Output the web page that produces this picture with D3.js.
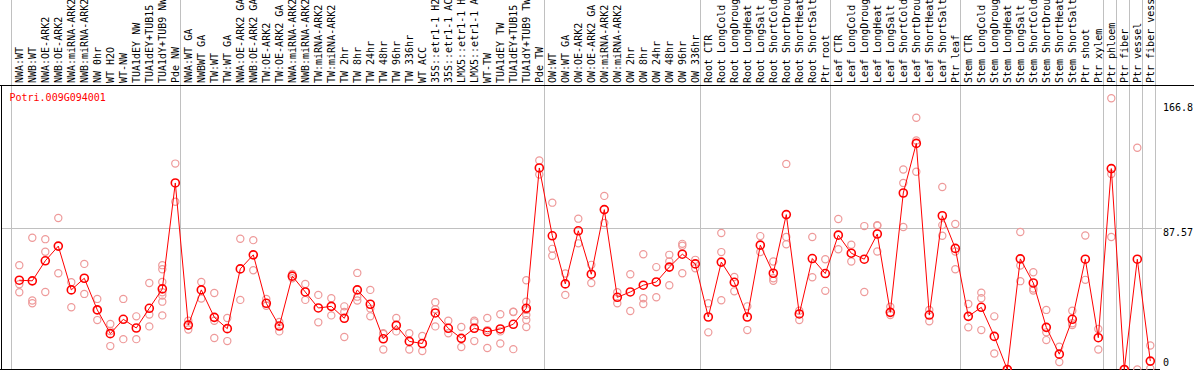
<!DOCTYPE html>
<html><head><meta charset="utf-8">
<script src="https://cdn.jsdelivr.net/npm/d3@7"></script>
<style>
html,body{margin:0;padding:0;background:#fff;}
svg{display:block;}
text{font-family:"DejaVu Sans Mono","Liberation Mono",monospace;font-size:10px;}
</style></head>
<body><svg id="c" width="1194" height="370"></svg>
<script>
const geneId = "Potri.009G094001";
const categories = [
"NWA:WT","NWB:WT","NWA:OE-ARK2","NWB:OE-ARK2","NWA:miRNA-ARK2","NWB:miRNA-ARK2","NW 0hr","WT H2O","WT-NW","TUA1dEY NW","TUA1dEY+TUB15 NW","TUA1dY+TUB9 NW","Pde NW",
"NWA:WT GA","NWBWT GA","TW:WT","TW:WT GA","NWA:OE-ARK2 GA","NWB:OE-ARK2 GA","TW:OE-ARK2","TW:OE-ARK2 GA","NWA:miRNA-ARK2 GA","NWB:miRNA-ARK2 GA","TW:miRNA-ARK2","TW:miRNA-ARK2 GA","TW 2hr","TW 8hr","TW 24hr","TW 48hr","TW 96hr","TW 336hr","WT ACC","35S::etr1-1 H2O","35S::etr1-1 ACC","LMX5::etr1-1 H2O","LMX5::etr1-1 ACC","WT-TW","TUA1dEY TW","TUA1dEY+TUB15 TW","TUA1dY+TUB9 TW","Pde TW",
"OW:WT","OW:WT GA","OW:OE-ARK2","OW:OE-ARK2 GA","OW:miRNA-ARK2","OW:miRNA-ARK2 GA","OW 2hr","OW 8hr","OW 24hr","OW 48hr","OW 96hr","OW 336hr",
"Root CTR","Root LongCold","Root LongDrought","Root LongHeat","Root LongSalt","Root ShortCold","Root ShortDrought","Root ShortHeat","Root ShortSalt","Ptr root",
"Leaf CTR","Leaf LongCold","Leaf LongDrought","Leaf LongHeat","Leaf LongSalt","Leaf ShortCold","Leaf ShortDrought","Leaf ShortHeat","Leaf ShortSalt","Ptr leaf",
"Stem CTR","Stem LongCold","Stem LongDrought","Stem LongHeat","Stem LongSalt","Stem ShortCold","Stem ShortDrought","Stem ShortHeat","Stem ShortSalt","Ptr shoot","Ptr xylem",
"Ptr phloem","Ptr fiber","Ptr vessel","Ptr fiber vessel"];
const groupStarts = [0, 13, 41, 53, 63, 73, 84, 85, 86, 87];
const means = [
55.3,54.9,67.3,76.4,49.3,56.5,36.9,22.2,31.1,25.7,37.9,49.9,115.5,
27.5,49.3,32.3,25.3,62.3,71.0,41.0,26.9,57.8,48.0,38.1,39.1,31.7,49.3,40.4,19.0,27.3,17.4,16.1,35.0,25.5,19.3,25.5,23.4,25.1,28.0,37.9,124.8,
82.8,53.0,85.9,59.0,99.0,44.7,48.0,52.2,54.2,63.4,71.4,65.4,
32.5,66.5,54.0,32.5,77.0,59.6,95.9,34.4,68.7,59.4,
83.2,72.0,68.3,83.9,35.4,109.3,140.0,33.7,95.2,75.0,
32.9,38.5,20.5,0,68.5,53.6,26.1,9.5,31.1,68.3,19.7,
124.4,0,68.3,5.2];
const replicates = [
[64.6,52.8,47.8],[81.6,42.7,41.0],[80.7,72.9,48.0],[93.8,59.6],[54.0,38.5],[65.4,46.8],[43.7,36.9,30.6],[28.2,23.8,14.5],[43.7,18.8],[32.9,18.8],[53.6,34.0,26.7],[64.6,62.1,54.2,47.8,45.8,42.0,33.5],[127.5,103.9],
[30.2,24.8],[54.2,43.9],[47.4,30.2,19.5],[31.9,17.6],[81.0,43.1],[80.1,61.5],[43.7,39.5],[29.4,23.6],[59.1,56.5],[53.0,43.1],[46.2,29.2],[44.1,33.5],[39.1,35.6,20.1],[59.8,45.1,42.7],[49.3,37.7,32.9],[22.4,22.0,12.4],[31.9,23.6],[22.4,12.4],[20.7,11.4],[41.6,37.3,26.7],[30.2,22.4],[26.3,13.9],[30.2,29.2,17.6],[31.9,24.4,13.3],[34.2,23.6,16.1],[35.6,35.8,12.6],[55.3,42.0,36.9,33.7,30.6,26.3],[129.4,120.7],
[103.3,74.7,70.4],[59.4,46.2],[93.4,78.1],[64.8,53.6],[107.5,90.7],[47.8,41.0],[59.0,36.2],[71.4,44.1,40.6],[63.4,44.7],[71.0,66.9,52.2],[77.8,76.6,59.6],[67.9,62.7],
[41.0,23.0],[84.5,72.7,42.9],[57.3,48.4],[39.1,24.4],[82.6,72.7],[66.9,56.5,54.9],[127.3,82.0,77.6],[36.4,30.6],[82.0,57.1],[68.3,48.7],
[93.2,74.5],[77.2,66.9],[88.8,48.0],[89.4,89.0,73.1],[38.9,33.7],[123.8,115.5,88.2],[155.9,141.8,122.4],[36.9,29.8],[113.0,89.4,82.8],[90.1,73.1,62.1],
[40.6,26.1],[47.6,44.1,24.4],[32.9,9.9],[0,0],[85.1,64.4,54.7],[60.2,50.1,48.9],[36.9,23.0,18.2],[14.1,4.6],[36.4,28.6,27.5],[83.0,55.5],[25.1,12.4],
[168.0,121.1,82.0],[0,0],[137.3,0],[14.9,0.6]];
const yTicks = [0, 87.57, 166.8];
const yMax = 175.14;

const svg = d3.select("#c");
const x = d3.scaleBand().domain(categories).range([11.3, 1155.3]).padding(0);
const px = c => x(c) + 8;
const y = d3.scaleLinear().domain([0, yMax]).range([369.5, 86.65]);
const crisp = v => Math.round(v) + 0.5;

// separators
const seps = groupStarts.map(i => x(categories[i])).concat([x.range()[1]]);
svg.append("g").selectAll("line").data(seps).join("line")
  .attr("x1", d => crisp(d)).attr("x2", d => crisp(d))
  .attr("y1", 0).attr("y2", 369)
  .attr("stroke", "#c0c0c0").attr("stroke-width", 1);

// gridline at middle tick
svg.append("line")
  .attr("x1", 1).attr("x2", 1162)
  .attr("y1", crisp(y(yTicks[1]))).attr("y2", crisp(y(yTicks[1])))
  .attr("stroke", "#c0c0c0");

// frame
svg.append("line").attr("x1", 0).attr("x2", 1194).attr("y1", 85.5).attr("y2", 85.5).attr("stroke", "#000");
svg.append("line").attr("x1", 1.5).attr("x2", 1.5).attr("y1", 85).attr("y2", 370).attr("stroke", "#000");
svg.append("line").attr("x1", 0).attr("x2", 1160).attr("y1", 369.5).attr("y2", 369.5).attr("stroke", "#000");

// category labels
svg.append("g").selectAll("text").data(categories).join("text")
  .attr("transform", d => `translate(${px(d)},83) rotate(-90)`)
  .attr("dy", "0.35em")
  .attr("fill", "#000")
  .text(d => d);

// title
svg.append("text").attr("x", 9.5).attr("y", 101).attr("fill", "#ff0000").text(geneId);

// y labels
svg.append("g").selectAll("text").data(yTicks).join("text")
  .attr("x", 1163)
  .attr("y", d => d === yTicks[2] ? y(d) + 11 : Math.min(y(d) + 8, 366))
  .attr("fill", "#000")
  .text(d => d);

// replicates
const repPts = [];
categories.forEach((c, i) => replicates[i].forEach(v => repPts.push([c, v])));
svg.append("g").selectAll("circle").data(repPts).join("circle")
  .attr("cx", d => px(d[0])).attr("cy", d => y(d[1])).attr("r", 3.6)
  .attr("fill", "none").attr("stroke", "#ee9a9a").attr("stroke-width", 1.2);

// mean line
const line = d3.line().x((d, i) => px(categories[i])).y(d => y(d));
svg.append("path").datum(means).attr("d", line)
  .attr("fill", "none").attr("stroke", "#ff0000").attr("stroke-width", 1);

// mean circles
svg.append("g").selectAll("circle").data(means).join("circle")
  .attr("cx", (d, i) => px(categories[i])).attr("cy", d => y(d)).attr("r", 4)
  .attr("fill", "none").attr("stroke", "#ff0000").attr("stroke-width", 1.6);
</script></body></html>
